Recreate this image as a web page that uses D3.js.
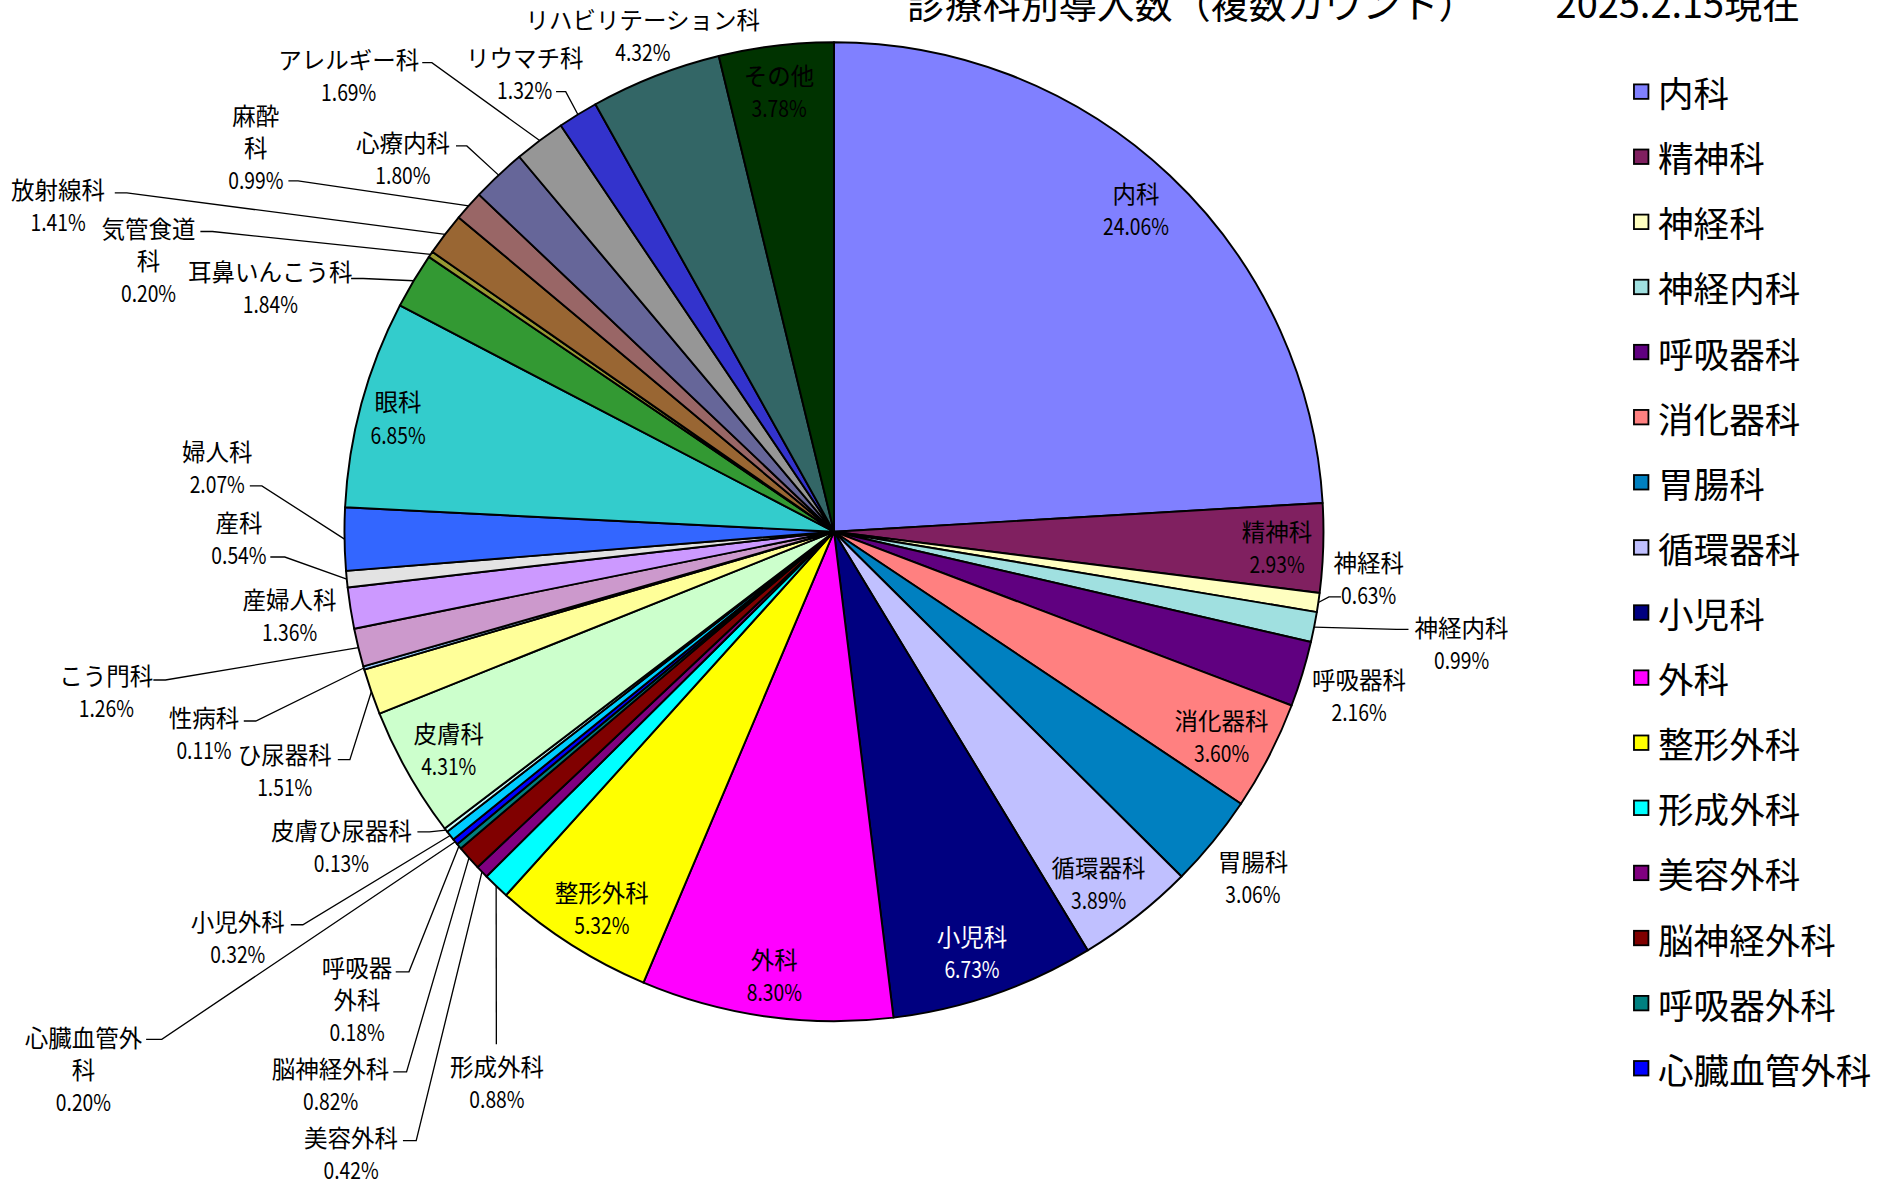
<!DOCTYPE html>
<html>
<head>
<meta charset="utf-8">
<script src="https://cdn.jsdelivr.net/npm/d3@7"></script>
<style>
  body { margin: 0; background: #fff; }
  svg { display: block; }
</style>
</head>
<body>
<div id="chart"></div>
<script>
// categories in clockwise order from 12 o'clock
const categories = [
    "内科", "精神科", "神経科", "神経内科", "呼吸器科", "消化器科", "胃腸科", "循環器科",
    "小児科", "外科", "整形外科", "形成外科", "美容外科", "脳神経外科", "呼吸器外科", "心臓血管外科",
    "小児外科", "皮膚ひ尿器科", "皮膚科", "ひ尿器科", "性病科", "こう門科", "産婦人科", "産科",
    "婦人科", "眼科", "耳鼻いんこう科", "気管食道科", "放射線科", "麻酔科", "心療内科", "アレルギー科",
    "リウマチ科", "リハビリテーション科", "その他"
];

// share in percent
const shares = [
    24.06, 2.93, 0.63, 0.99, 2.16, 3.60, 3.06, 3.89,
    6.73, 8.30, 5.32, 0.88, 0.42, 0.82, 0.18, 0.20,
    0.32, 0.13, 4.31, 1.51, 0.11, 1.26, 1.36, 0.54,
    2.07, 6.85, 1.84, 0.20, 1.41, 0.99, 1.80, 1.69,
    1.32, 4.32, 3.78
];

const titleMain = "診療科別導入数（複数カウント）";
const titleDate = "2025.2.15現在";
const legendCount = 16; // legend only shows the first 16 entries

const palette = [
    "#8080ff", "#802060", "#ffffc0", "#a0e0e0", "#600080", "#ff8080", "#0080c0", "#c0c0ff",
    "#000080", "#ff00ff", "#ffff00", "#00ffff", "#800080", "#800000", "#008080", "#0000ff",
    "#00ccff", "#ccffff", "#ccffcc", "#ffff99", "#99ccff", "#cc99cc", "#cc99ff", "#e3e3e3",
    "#3366ff", "#33cccc", "#339933", "#999933", "#996633", "#996666", "#666699", "#969696",
    "#3333cc", "#336666", "#003300"
];

// label placement (drawing units of the 1568x982 view): centre x, first line y,
// optional wrapped name, optional leader attach point + elbow
const labelLayout = {
    "内科": {x: 942, y: 160},
    "精神科": {x: 1059, y: 440},
    "神経科": {x: 1135, y: 466, attach: [1112, 495], elbow: [1102, 495]},
    "神経内科": {x: 1212, y: 520, attach: [1168, 522], elbow: [1158, 522]},
    "呼吸器科": {x: 1127, y: 563},
    "消化器科": {x: 1013, y: 597},
    "胃腸科": {x: 1039, y: 714},
    "循環器科": {x: 911, y: 719},
    "小児科": {x: 806, y: 776, fill: "#fff"},
    "外科": {x: 642, y: 795},
    "整形外科": {x: 499, y: 740},
    "形成外科": {x: 412, y: 884, attach: [411.5, 866]},
    "美容外科": {x: 291, y: 943, attach: [334, 946], elbow: [345, 946]},
    "脳神経外科": {x: 274, y: 886, attach: [326, 889], elbow: [337, 889]},
    "呼吸器外科": {x: 296, y: 802, wrap: ["呼吸器", "外科"], attach: [328, 806], elbow: [339, 806]},
    "心臓血管外科": {x: 69, y: 860, wrap: ["心臓血管外", "科"], attach: [121, 862], elbow: [134, 862]},
    "小児外科": {x: 197, y: 764, attach: [241, 767], elbow: [251, 767]},
    "皮膚ひ尿器科": {x: 283, y: 688, attach: [346, 690], elbow: [356, 690]},
    "皮膚科": {x: 372, y: 608},
    "ひ尿器科": {x: 236, y: 625, attach: [280, 630], elbow: [290, 630]},
    "性病科": {x: 169, y: 595, attach: [202, 598], elbow: [212, 598]},
    "こう門科": {x: 88, y: 560, attach: [127, 564], elbow: [137, 564]},
    "産婦人科": {x: 240, y: 497},
    "産科": {x: 198, y: 433, attach: [224, 462], elbow: [236, 462]},
    "婦人科": {x: 180, y: 374, attach: [207, 403], elbow: [217, 403]},
    "眼科": {x: 330, y: 333},
    "耳鼻いんこう科": {x: 224, y: 225, attach: [291, 231], elbow: [301, 231]},
    "気管食道科": {x: 123, y: 189, wrap: ["気管食道", "科"], attach: [166, 192], elbow: [176, 192]},
    "放射線科": {x: 48, y: 157, attach: [95, 160], elbow: [105, 160]},
    "麻酔科": {x: 212, y: 95, wrap: ["麻酔", "科"], attach: [239, 150], elbow: [247, 150]},
    "心療内科": {x: 334, y: 118, attach: [378, 121], elbow: [387, 121]},
    "アレルギー科": {x: 289, y: 49, attach: [350, 52], elbow: [358, 52]},
    "リウマチ科": {x: 435, y: 47, attach: [461, 76], elbow: [469, 76]},
    "リハビリテーション科": {x: 533, y: 16},
    "その他": {x: 646, y: 62}
};

const W = 1568, H = 982;
const cx = 691.5, cy = 441, radius = 406;
const lineH = 26.6;
const pctSqueeze = 0.82; // percentages in the original use a narrow font
const cjkFont = "'Noto Sans CJK JP', sans-serif";

const svg = d3.select("#chart").append("svg")
    .attr("width", 1891)
    .attr("height", 1184)
    .attr("viewBox", `0 0 ${W} ${H}`);

const data = categories.map((c, i) => ({name: c, value: shares[i], color: palette[i]}));

const pie = d3.pie().sort(null).value(d => d.value)
    .startAngle(0).endAngle(2 * Math.PI);
const arcs = pie(data);

const arc = d3.arc().innerRadius(0).outerRadius(radius);
const edgeArc = d3.arc().innerRadius(radius).outerRadius(radius);

const g = svg.append("g").attr("transform", `translate(${cx},${cy})`);

g.selectAll("path.slice")
    .data(arcs)
    .enter().append("path")
    .attr("class", "slice")
    .attr("d", arc)
    .attr("fill", d => d.data.color)
    .attr("stroke", "#000")
    .attr("stroke-width", 1.6)
    .attr("stroke-linejoin", "round");

// leader lines
const withLeader = arcs.filter(d => labelLayout[d.data.name].attach);
svg.selectAll("path.leader")
    .data(withLeader)
    .enter().append("path")
    .attr("class", "leader")
    .attr("fill", "none")
    .attr("stroke", "#000")
    .attr("stroke-width", 1.1)
    .attr("d", d => {
        const L = labelLayout[d.data.name];
        const p = edgeArc.centroid(d);
        const pts = [[cx + p[0], cy + p[1]]];
        if (L.elbow) pts.push(L.elbow);
        pts.push(L.attach);
        return d3.line()(pts);
    });

// data labels
const labels = svg.selectAll("text.label")
    .data(arcs)
    .enter().append("text")
    .attr("class", "label")
    .attr("font-family", cjkFont)
    .attr("font-size", 19.5)
    .attr("text-anchor", "middle")
    .attr("fill", d => labelLayout[d.data.name].fill || "#000");

labels.each(function(d) {
    const L = labelLayout[d.data.name];
    const lines = (L.wrap || [d.data.name]).concat([d.data.value.toFixed(2) + "%"]);
    d3.select(this).selectAll("tspan")
        .data(lines)
        .enter().append("tspan")
        .attr("x", L.x)
        .attr("y", (t, i) => L.y + i * lineH)
        .attr("dominant-baseline", "central")
        .text(t => t);
    // squeeze the percentage line
    const last = d3.select(this).selectAll("tspan").filter((t, i) => i === lines.length - 1);
    const w = last.node().getComputedTextLength();
    last.attr("textLength", w * pctSqueeze).attr("lengthAdjust", "spacingAndGlyphs");
});

// title (partly cut by the top edge)
svg.append("text")
    .attr("x", 752).attr("y", 15)
    .attr("font-family", cjkFont)
    .attr("font-size", 31.5)
    .text(titleMain);
svg.append("text")
    .attr("x", 1290).attr("y", 15)
    .attr("font-family", cjkFont)
    .attr("font-size", 31.5)
    .text(titleDate);

// legend
const legendY = d3.scalePoint()
    .domain(categories.slice(0, legendCount))
    .range([76, 886]);

const legend = svg.selectAll("g.legend")
    .data(data.slice(0, legendCount))
    .enter().append("g")
    .attr("class", "legend")
    .attr("transform", d => `translate(1355,${legendY(d.name)})`);

legend.append("rect")
    .attr("x", 0).attr("y", -6)
    .attr("width", 12).attr("height", 12)
    .attr("fill", d => d.color)
    .attr("stroke", "#000")
    .attr("stroke-width", 1.5);

legend.append("text")
    .attr("x", 20).attr("y", 0)
    .attr("dominant-baseline", "central")
    .attr("font-family", cjkFont)
    .attr("font-size", 29.5)
    .text(d => d.name);
</script>
</body>
</html>
